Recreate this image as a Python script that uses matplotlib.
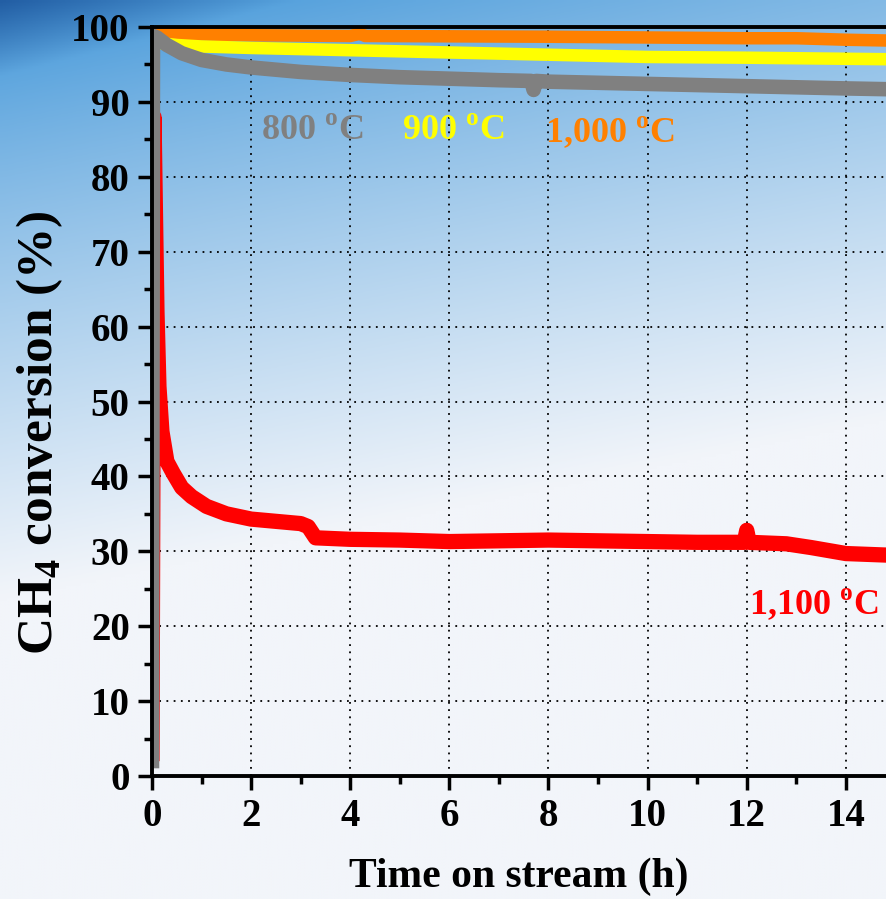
import matplotlib.pyplot as plt
import numpy as np

plt.rcParams['font.family'] = ['Liberation Serif', 'DejaVu Serif']
plt.rcParams['font.weight'] = 'bold'
plt.rcParams['mathtext.fontset'] = 'custom'
plt.rcParams['mathtext.rm'] = 'Liberation Serif:bold'
plt.rcParams['mathtext.bf'] = 'Liberation Serif:bold'

# values (time in h, conversion in %)
t_800 = [0, 0.02, 0.1, 0.3, 0.6, 1.0, 1.5, 2, 3, 4, 5, 6, 7, 7.65, 7.7, 7.75, 8, 10, 12, 14, 14.8]
x_800 = [2, 98.8, 98.6, 97.6, 96.5, 95.6, 95.0, 94.6, 94.0, 93.6, 93.3, 93.1, 92.9, 92.8, 91.6, 92.8, 92.7, 92.4, 92.1, 91.8, 91.7]

t_900 = [0, 0.03, 0.1, 0.5, 1, 2, 4, 6, 8, 10, 12, 14.8]
x_900 = [5, 98.0, 97.9, 97.6, 97.4, 97.2, 96.9, 96.6, 96.3, 96.0, 95.9, 95.7]

t_1000 = [0, 0.03, 1, 2, 4, 4.2, 4.3, 8, 10, 12, 13, 14, 14.8]
x_1000 = [4, 99.3, 99.0, 98.9, 98.8, 99.1, 98.8, 98.7, 98.6, 98.5, 98.5, 98.3, 98.2]

t_1100 = [0, 0.04, 0.07, 0.1, 0.14, 0.2, 0.3, 0.43, 0.6, 0.8, 1.1, 1.5, 2.0, 2.5, 3.0, 3.15, 3.3, 4, 5, 6,
          7, 8, 9, 10, 11, 11.95, 12.0, 12.05, 12.8, 13.3, 14, 14.8]
x_1100 = [3, 88, 75, 62, 52, 46, 42, 40.4, 38.5, 37.3, 36.0, 35.0, 34.3, 34.0, 33.7, 33.3, 31.8, 31.6, 31.5, 31.3,
          31.4, 31.5, 31.4, 31.3, 31.2, 31.2, 32.8, 31.2, 31.0, 30.5, 29.7, 29.5]

labels = ['800 $^\\mathbf{o}$C', '900 $^\\mathbf{o}$C', '1,000 $^\\mathbf{o}$C', '1,100 $^\\mathbf{o}$C']
colors = ['#808080', '#FFFF00', '#FF8000', '#FF0000']

fig = plt.figure(figsize=(8.86, 8.99), dpi=100)

# slide background gradient
bg = fig.add_axes([0, 0, 1, 1], zorder=-10)
yy, xx = np.mgrid[0:1:300j, 0:1:300j]
top = np.array([55, 145, 215]) / 255
bot = np.array([242, 245, 250]) / 255
w = np.clip(yy * 1.5 + xx * 0.3, 0, 1) ** 0.75
img = top[None, None, :] * (1 - w[..., None]) + bot[None, None, :] * w[..., None]
dark = np.clip(1 - (xx * 3 + yy * 12), 0, 1)[..., None]
img = img * (1 - 0.6 * dark) + np.array([20, 60, 130])[None, None, :] / 255 * 0.6 * dark
bg.imshow(img, aspect='auto', extent=[0, 1, 0, 1], origin='upper')
bg.axis('off')

ax = fig.add_axes([152 / 886, 1 - 776 / 899, 1 - 152 / 886, (776 - 27) / 899])
ax.set_facecolor('none')

ax.plot(t_1100, x_1100, color=colors[3], lw=11)
ax.plot(t_1000, x_1000, color=colors[2], lw=9)
ax.plot(t_900, x_900, color=colors[1], lw=9)
ax.plot(t_800, x_800, color=colors[0], lw=10.5)

ax.set_xlim(0, 14.81)
ax.set_ylim(0, 100)
ax.set_xticks(np.arange(0, 15, 2))
ax.set_xticks(np.arange(1, 15, 2), minor=True)
ax.set_yticks(np.arange(0, 101, 10))
ax.set_yticks(np.arange(5, 100, 10), minor=True)
ax.grid(True, which='major', color='black', linestyle=(0, (1, 3)), lw=1.3)

for s in ['left', 'bottom', 'top']:
    ax.spines[s].set_linewidth(2.8)
ax.spines['right'].set_visible(False)
ax.tick_params(which='major', length=10, width=2.5, labelsize=28, pad=6)
ax.tick_params(which='minor', length=6, width=2.5)

ax.set_xlabel('Time on stream (h)', fontsize=30, fontweight='bold', labelpad=16)
ax.set_ylabel('CH$_\\mathbf{4}$ conversion (%)', fontsize=37, fontweight='bold')
ax.yaxis.set_label_coords(-0.118, 0.459)

ax.text(2.2, 86, labels[0], color=colors[0], fontsize=26, fontweight='bold', va='center')
ax.text(5.05, 86, labels[1], color=colors[1], fontsize=26, fontweight='bold', va='center')
ax.text(7.93, 86, labels[2], color=colors[2], fontsize=26, fontweight='bold', va='center')
ax.text(12.05, 23, labels[3], color=colors[3], fontsize=26, fontweight='bold', va='center')

fig.savefig('out.png', dpi=100)
